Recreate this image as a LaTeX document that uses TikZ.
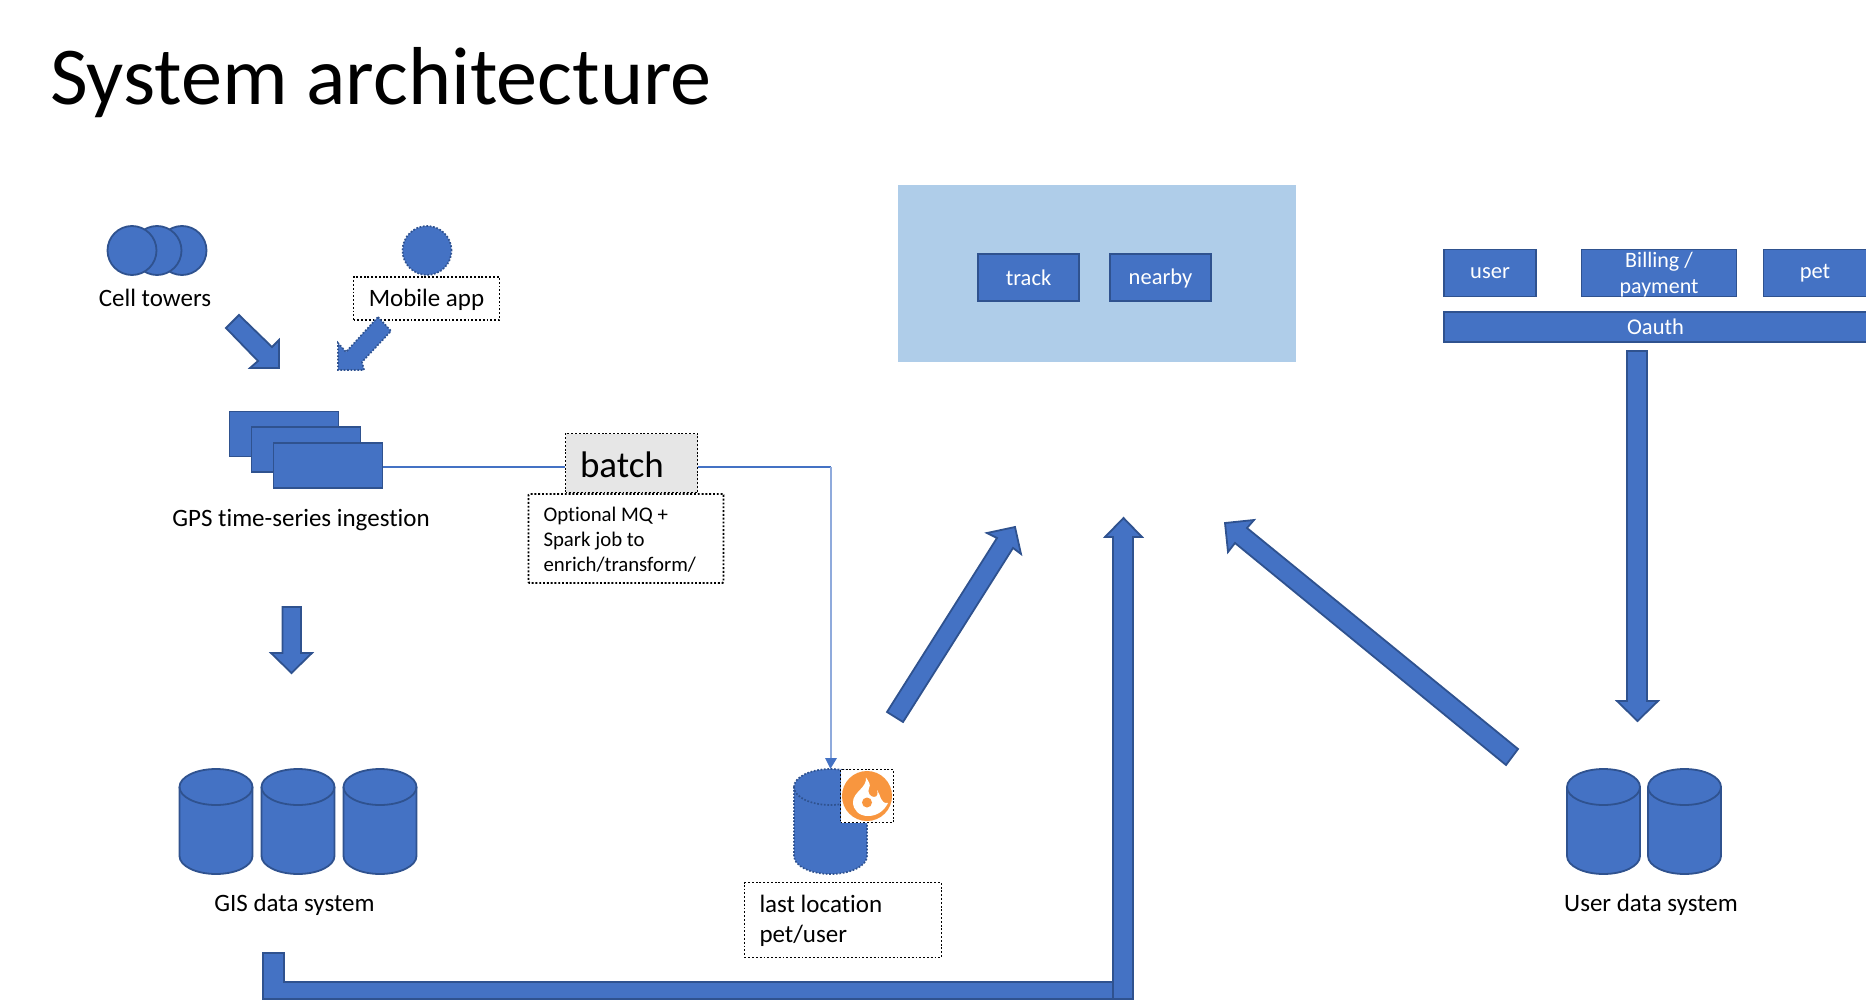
\documentclass[tikz,border=0pt]{standalone}
\usepackage{fontspec}
\setmainfont{Carlito}[Ligatures=NoCommon]
\usetikzlibrary{arrows.meta}
\definecolor{blu}{HTML}{4472C4}
\definecolor{edg}{HTML}{2F528F}
\definecolor{pale}{HTML}{AFCDE9}
\definecolor{lite}{HTML}{8FAADC}
\definecolor{gry}{HTML}{E6E6E6}
\definecolor{ora}{HTML}{F8963F}
\newcommand\fsz[2]{\fontsize{#1}{#2}\selectfont}
\newcommand\nudge[2]{\raisebox{-#1}[\height][\depth]{#2}}
\tikzset{
  blk/.style={fill=blu,draw=edg,line width=1.8pt,line join=miter},
  blkdot/.style={fill=blu,draw=edg,line width=1.7pt,dash pattern=on 1.7pt off 1.7pt},
  bluebox/.style={blk,inner sep=0pt,text=white,font=\fsz{22.5}{26}},
  dotbox/.style={draw=black,line width=1.9pt,dash pattern=on 1.9pt off 1.9pt,inner sep=0pt,text=black},
  lbl/.style={inner sep=0pt,text=black,font=\fsz{25}{30}},
  thin/.style={draw=blu,line width=1.1pt},
  thinlite/.style={draw=lite,line width=1.6pt},
  ghost/.style={inner sep=0pt,minimum width=73pt,minimum height=105pt},
}
% #1 node name, #2 centre x, #3 path style
\newcommand\dbcyl[3]{%
  \node[ghost] (#1) at (#2,821.5) {};
  \draw[#3] (#2-36.5,787) arc[start angle=180,end angle=0,x radius=36.5pt,y radius=18pt]
    -- (#2+36.5,856) arc[start angle=0,end angle=-180,x radius=36.5pt,y radius=18pt] -- cycle;
  \draw[#3,fill=none] (#2-36.5,787) arc[start angle=180,end angle=360,x radius=36.5pt,y radius=18pt];
}
\begin{document}
\begin{tikzpicture}[x=1pt,y=-1pt]
\useasboundingbox (0,0) rectangle (1866,1000);
% title
\node[anchor=base west,inner sep=0pt,font=\fsz{82.2}{90}] (title) at (50,105) {System architecture};

% sources
\node[blk,circle,minimum size=49pt,inner sep=0pt] (c3) at (182,250.5) {};
\node[blk,circle,minimum size=49pt,inner sep=0pt] (c2) at (157,250.5) {};
\node[blk,circle,minimum size=49pt,inner sep=0pt] (c1) at (132,250.5) {};
\node[lbl] (cell) at (155,298) {Cell towers};
\node[blkdot,circle,minimum size=49pt,inner sep=0pt] (mobc) at (427,250.5) {};
\node[dotbox,minimum width=146pt,minimum height=43pt,font=\fsz{25}{30}] (mob) at (426.5,298.5) {\nudge{1pt}{Mobile app}};
\draw[blk] (226,328) -- (239,315) -- (272,347) -- (279,340) -- (279,368) -- (250,368) -- (258,361) -- cycle;
\draw[blkdot] (378,317) -- (391,331) -- (362,362) -- (364,370) -- (338,370) -- (338,343) -- (346,352) -- cycle;

% ingestion
\node[blk,minimum width=109pt,minimum height=45pt,inner sep=0pt] (r1) at (284,434) {};
\node[blk,minimum width=109pt,minimum height=45pt,inner sep=0pt] (r2) at (306,449.5) {};
\node[blk,minimum width=109pt,minimum height=45pt,inner sep=0pt] (r3) at (328,465.5) {};
\node[lbl] (gps) at (301,520.4) {GPS time-series ingestion};

% batch
\node[dotbox,fill=gry,minimum width=132pt,minimum height=59pt,font=\fsz{37}{40},text width=103pt,align=left] (batch) at (631.5,463) {\nudge{2pt}{batch}};
\node[dotbox,fill=white,rounded corners=1pt,minimum width=195pt,minimum height=89pt,text width=165pt,align=left,font=\fsz{20.8}{25}] (opt) at (626,538.5) {\spaceskip=0pt\relax\nudge{1.2pt}{Optional MQ +}\\\nudge{1.2pt}{Spark job to}\\\nudge{1.2pt}{enrich/transform/}};
\dbcyl{lastdb}{830.5}{blkdot}
\coordinate (bend) at (831,467);
\draw[thin] ([yshift=-1.5pt]r3.east) -- ([yshift=-4pt]batch.west);
\draw[thin] ([yshift=-4pt]batch.east) -- (bend);
\draw[thinlite] (bend) -- (831,760);
\draw[draw=none,fill=blu] (lastdb.north) -- (825,758) -- (837,758) -- cycle;

% flame icon
\node[draw=none,fill=white,minimum size=53pt,inner sep=0pt] (iconbg) at (867,796) {};
\fill[ora] (867,796) circle (25pt);
\fill[white] (866,777.5) .. controls (869,782) and (871,785) .. (869,788)
  .. controls (867,792) and (870,797) .. (874,797)
  .. controls (878,797) and (878,793) .. (877,790)
  .. controls (881,795) and (880,804) .. (888,803)
  .. controls (884,811) and (877,816) .. (868,816)
  .. controls (859,816) and (853,810) .. (853,802)
  .. controls (853,792) and (867,788) .. cycle;
\fill[ora] (867,802.5) circle (5pt);
\node[dotbox,minimum size=53pt] (icon) at (867,796) {};

\node[dotbox,minimum width=197pt,minimum height=75pt,text width=167pt,align=left,font=\fsz{25}{30}] (last) at (843,920) {\spaceskip=0pt\relax\nudge{1.2pt}{last location}\\\nudge{1.2pt}{pet/user}};

% GIS
\dbcyl{g1}{216}{blk}
\dbcyl{g2}{298}{blk}
\dbcyl{g3}{380}{blk}
\node[lbl] (gis) at (294.5,905.2) {GIS data system};
\draw[blk] (282.5,607) -- (301,607) -- (301,653) -- (312,653) -- (291.5,673) -- (271,653) -- (282.5,653) -- cycle;

% service box
\node[fill=pale,minimum width=398pt,minimum height=177pt,inner sep=0pt] (svc) at (1097,273.5) {};
\node[bluebox,minimum width=101pt,minimum height=47pt] (track) at (1028.5,277.5) {track};
\node[bluebox,minimum width=101pt,minimum height=47pt] (nearby) at (1160.5,277.5) {\nudge{1.2pt}{nearby}};

% user stack
\node[bluebox,minimum width=92pt,minimum height=47pt] (user) at (1490,273) {\nudge{0.6pt}{user}};
\node[bluebox,minimum width=155pt,minimum height=47pt] (bill) at (1659,273) {};
\node[inner sep=0pt,text=white,font=\fsz{22}{26},align=center] (billt) at (1659,274.5) {Billing /\\payment};
\node[bluebox,minimum width=103pt,minimum height=47pt] (pet) at (1815,273) {\nudge{0.6pt}{pet}};
\node[bluebox,minimum width=423pt,minimum height=30.5pt] (oauth) at (1655.5,327) {Oauth};
\draw[blk] (1627,351) -- (1647,351) -- (1647,701) -- (1658,701) -- (1637.5,721) -- (1617,701) -- (1627,701) -- cycle;
\dbcyl{u1}{1603.5}{blk}
\dbcyl{u2}{1684.5}{blk}
\node[lbl] (uds) at (1651,905.2) {User data system};

% big arrows
\draw[blk] (263,953) -- (284,953) -- (284,982) -- (1113,982) -- (1113,999) -- (263,999) -- cycle;
\draw[blk] (1113,999) -- (1113,537) -- (1105,537) -- (1123.5,518) -- (1142,537) -- (1133,537) -- (1133,999) -- cycle;
\draw[blk] (887,712) -- (997,538) -- (987,533) -- (1015,527) -- (1021,554) -- (1013,548) -- (903,722) -- cycle;
\draw[blk] (1518,749) -- (1247,528) -- (1254,520) -- (1225,523) -- (1228,552) -- (1235,543) -- (1506,765) -- cycle;
\end{tikzpicture}
\end{document}
